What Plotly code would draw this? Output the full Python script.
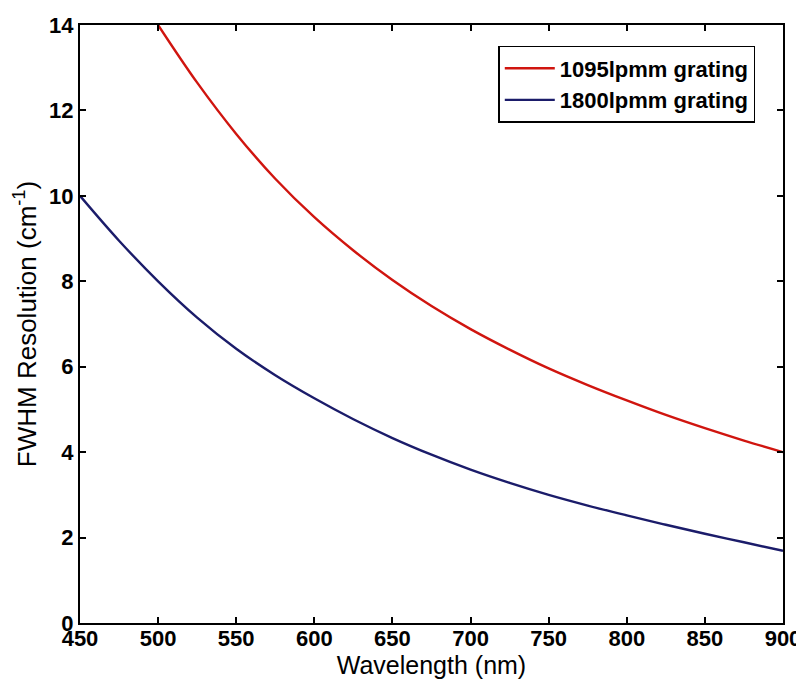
import plotly.graph_objects as go

wavelength_red = [500, 525, 550, 575, 600, 625, 650, 675, 700, 725, 750, 775, 800, 825, 850, 875, 900]
fwhm_1095 = [14.0, 12.65, 11.45, 10.4, 9.5, 8.72, 8.03, 7.42, 6.88, 6.40, 5.96, 5.57, 5.21, 4.87, 4.56, 4.27, 4.0]

wavelength_blue = [450, 475, 500, 525, 550, 575, 600, 625, 650, 675, 700, 725, 750, 775, 800, 825, 850, 875, 900]
fwhm_1800 = [10.0, 8.95, 8.0, 7.15, 6.42, 5.80, 5.26, 4.77, 4.33, 3.94, 3.59, 3.28, 3.0, 2.75, 2.52, 2.30, 2.09, 1.89, 1.69]

x_ticks = [450, 500, 550, 600, 650, 700, 750, 800, 850, 900]
y_ticks = [0, 2, 4, 6, 8, 10, 12, 14]

fig = go.Figure()
fig.add_trace(go.Scatter(x=wavelength_red, y=fwhm_1095, mode="lines", name="1095lpmm grating",
                         line=dict(color="#d0150f", width=2.4, shape="spline", smoothing=1)))
fig.add_trace(go.Scatter(x=wavelength_blue, y=fwhm_1800, mode="lines", name="1800lpmm grating",
                         line=dict(color="#1b1c6a", width=2.4, shape="spline", smoothing=1)))

axis_common = dict(showline=True, linecolor="black", linewidth=2, mirror="ticks",
                   ticks="inside", ticklen=6, tickwidth=2, tickcolor="black",
                   showgrid=False, zeroline=False,
                   tickfont=dict(family="Liberation Sans", size=22, color="black", weight="bold"))

fig.update_xaxes(range=[450, 900], tickvals=x_ticks, ticktext=[str(v) for v in x_ticks],
                 ticklabelstandoff=-5,
                 title=dict(text="Wavelength (nm)", standoff=0,
                            font=dict(family="Liberation Sans", size=25, color="black")),
                 **axis_common)
fig.update_yaxes(range=[0, 14], tickvals=y_ticks, ticktext=[str(v) for v in y_ticks],
                 title=dict(text="FWHM Resolution (cm<sup>-1</sup>)", standoff=5,
                            font=dict(family="Liberation Sans", size=26, color="black")),
                 **axis_common)

fig.update_layout(
    width=796, height=672,
    margin=dict(l=72, r=21, t=17, b=57, autoexpand=False),
    paper_bgcolor="white", plot_bgcolor="white",
    legend=dict(x=0.595, y=0.965, xanchor="left", yanchor="top",
                bordercolor="black", borderwidth=1.5, bgcolor="white",
                font=dict(family="Liberation Sans", size=22, color="black", weight="bold"),
                tracegroupgap=0, itemwidth=50),
)

fig.write_html("out.html")
